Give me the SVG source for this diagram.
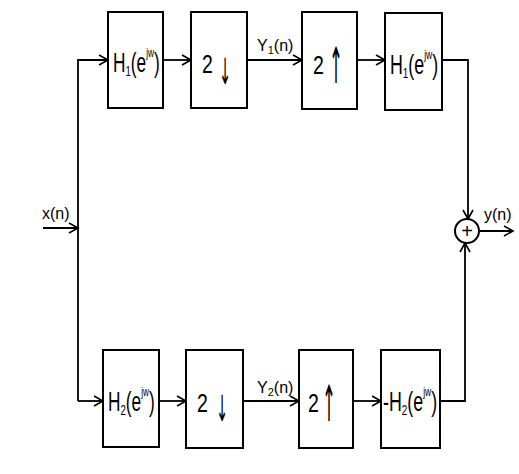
<svg xmlns="http://www.w3.org/2000/svg" width="519" height="474" viewBox="0 0 519 474">
  <defs>
    <!-- open chevron arrowhead -->
    <marker id="arr" markerWidth="12" markerHeight="12" refX="10" refY="6" orient="auto" markerUnits="userSpaceOnUse">
      <polyline points="1,1 10,6 1,11" fill="none" stroke="#000" stroke-width="1.6"/>
    </marker>
  </defs>
  <style>
    .box { fill: #fff; stroke: #000; stroke-width: 2; }
    .wire { fill: none; stroke: #000; stroke-width: 1.8; }
    .lbl { font-family: "Liberation Sans", "DejaVu Sans", sans-serif; fill: #000; }
    .sym { font-family: "DejaVu Sans", sans-serif; fill: #000; }
    .sig { font-size: 16px; }
    .fn { font-size: 27px; }
    .sub { font-size: 15px; }
    .sup { font-size: 13px; }
    .two { font-size: 26px; }
    .dn { font-size: 36px; }
    .up { font-size: 50px; }
  </style>
  <rect width="519" height="474" fill="#fff"/>

  <!-- connectors -->
  <g id="connectors">
    <line class="wire" x1="43" y1="228" x2="78" y2="228" marker-end="url(#arr)"/>
    <polyline class="wire" points="78,401 78,60 108,60" marker-end="url(#arr)"/>
    <line class="wire" x1="163" y1="60" x2="191" y2="60" marker-end="url(#arr)"/>
    <line class="wire" x1="247" y1="60" x2="302" y2="60" marker-end="url(#arr)"/>
    <line class="wire" x1="357" y1="60" x2="385" y2="60" marker-end="url(#arr)"/>
    <polyline class="wire" points="442,60 468,60 468,219" marker-end="url(#arr)"/>
    <line class="wire" x1="78" y1="401" x2="103" y2="401" marker-end="url(#arr)"/>
    <line class="wire" x1="159" y1="401" x2="186" y2="401" marker-end="url(#arr)"/>
    <line class="wire" x1="243" y1="401" x2="299" y2="401" marker-end="url(#arr)"/>
    <line class="wire" x1="353" y1="401" x2="381" y2="401" marker-end="url(#arr)"/>
    <polyline class="wire" points="440,401 465,401 465,243" marker-end="url(#arr)"/>
    <line class="wire" x1="480" y1="231" x2="513" y2="231" marker-end="url(#arr)"/>
    <text class="lbl sig" x="42" y="219">x(n)</text>
    <text class="lbl sig" x="257" y="51">Y<tspan font-size="11" dy="3">1</tspan><tspan dy="-3">(n)</tspan></text>
    <text class="lbl sig" x="257" y="393">Y<tspan font-size="11" dy="3">2</tspan><tspan dy="-3">(n)</tspan></text>
    <text class="lbl sig" x="484" y="220">y(n)</text>
  </g>

  <!-- upper branch -->
  <g id="h1-analysis">
    <rect class="box" x="108" y="12" width="55" height="96"/>
    <text class="lbl fn" transform="translate(113,72) scale(0.64,1)">H<tspan class="sub" dy="4">1</tspan><tspan dy="-4">(e</tspan><tspan class="sup" dy="-15">jw</tspan><tspan dy="15">)</tspan></text>
  </g>
  <g id="down1">
    <rect class="box" x="191" y="12" width="56" height="96"/>
    <text class="lbl two" transform="translate(202,73) scale(0.75,1)">2</text>
    <text class="sym dn" x="219" y="84" textLength="12" lengthAdjust="spacingAndGlyphs">↓</text>
  </g>
  <g id="up1">
    <rect class="box" x="302" y="12" width="55" height="97"/>
    <text class="lbl two" transform="translate(313,74) scale(0.75,1)">2</text>
    <text class="sym up" x="329" y="83" textLength="14" lengthAdjust="spacingAndGlyphs">↑</text>
  </g>
  <g id="h1-synthesis">
    <rect class="box" x="385" y="13" width="57" height="97"/>
    <text class="lbl fn" transform="translate(390,74) scale(0.66,1)">H<tspan class="sub" dy="4">1</tspan><tspan dy="-4">(e</tspan><tspan class="sup" dy="-15">jw</tspan><tspan dy="15">)</tspan></text>
  </g>

  <!-- lower branch -->
  <g id="h2-analysis">
    <rect class="box" x="103" y="350" width="56" height="97"/>
    <text class="lbl fn" transform="translate(108,411) scale(0.64,1)">H<tspan class="sub" dy="4">2</tspan><tspan dy="-4">(e</tspan><tspan class="sup" dy="-15">jw</tspan><tspan dy="15">)</tspan></text>
  </g>
  <g id="down2">
    <rect class="box" x="186" y="350" width="57" height="98"/>
    <text class="lbl two" transform="translate(197,412) scale(0.75,1)">2</text>
    <text class="sym dn" x="216" y="421" textLength="12" lengthAdjust="spacingAndGlyphs">↓</text>
  </g>
  <g id="up2">
    <rect class="box" x="299" y="350" width="54" height="98"/>
    <text class="lbl two" transform="translate(308,412) scale(0.75,1)">2</text>
    <text class="sym up" x="322" y="421" textLength="14" lengthAdjust="spacingAndGlyphs">↑</text>
  </g>
  <g id="h2-synthesis">
    <rect class="box" x="381" y="350" width="59" height="98"/>
    <text class="lbl fn" transform="translate(383,411) scale(0.66,1)">-H<tspan class="sub" dy="4">2</tspan><tspan dy="-4">(e</tspan><tspan class="sup" dy="-15">jw</tspan><tspan dy="15">)</tspan></text>
  </g>

  <!-- adder -->
  <g id="sum">
    <circle cx="467" cy="231" r="12" fill="#fff" stroke="#000" stroke-width="2"/>
    <text class="lbl" x="467" y="238" font-size="20" text-anchor="middle">+</text>
  </g>
</svg>
